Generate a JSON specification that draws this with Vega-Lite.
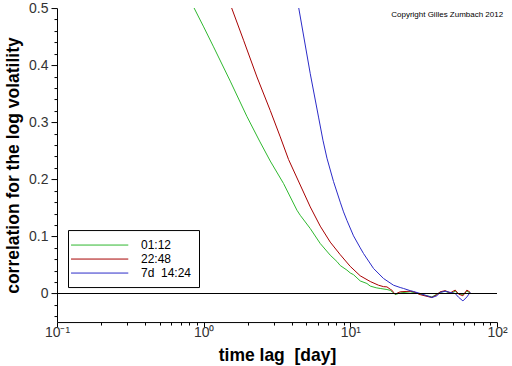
{
  "$schema": "https://vega.github.io/schema/vega-lite/v6.json",
  "width": 440,
  "height": 314,
  "autosize": {"type": "none"},
  "padding": {"left": 57, "top": 8.05, "right": 15, "bottom": 44},
  "background": "white",
  "config": {"font": "Liberation Sans", "view": {"stroke": null}},
  "title": {"text": "Copyright Gilles Zumbach 2012", "anchor": "end", "fontSize": 8, "fontWeight": "normal", "color": "black", "offset": -18, "dx": -4, "font": "Liberation Sans"},
  "data": {"values": [
    {"series": "01:12", "t": 0.80, "v": 0.516},
    {"series": "01:12", "t": 0.853, "v": 0.502},
    {"series": "01:12", "t": 1.0, "v": 0.467},
    {"series": "01:12", "t": 1.168, "v": 0.432},
    {"series": "01:12", "t": 1.518, "v": 0.372},
    {"series": "01:12", "t": 1.973, "v": 0.310},
    {"series": "01:12", "t": 2.405, "v": 0.267},
    {"series": "01:12", "t": 2.845, "v": 0.232},
    {"series": "01:12", "t": 3.505, "v": 0.1926},
    {"series": "01:12", "t": 4.325, "v": 0.1459},
    {"series": "01:12", "t": 4.555, "v": 0.137},
    {"series": "01:12", "t": 5.331, "v": 0.1138},
    {"series": "01:12", "t": 6.234, "v": 0.0876},
    {"series": "01:12", "t": 7.295, "v": 0.0671},
    {"series": "01:12", "t": 8.103, "v": 0.056},
    {"series": "01:12", "t": 8.535, "v": 0.049},
    {"series": "01:12", "t": 9.48, "v": 0.041},
    {"series": "01:12", "t": 9.984, "v": 0.036},
    {"series": "01:12", "t": 10.51, "v": 0.033},
    {"series": "01:12", "t": 11.68, "v": 0.022},
    {"series": "01:12", "t": 12.98, "v": 0.0175},
    {"series": "01:12", "t": 13.67, "v": 0.013},
    {"series": "01:12", "t": 15.0, "v": 0.010},
    {"series": "01:12", "t": 15.99, "v": 0.0088},
    {"series": "01:12", "t": 17.77, "v": 0.007},
    {"series": "01:12", "t": 18.71, "v": 0.0055},
    {"series": "01:12", "t": 19.70, "v": 0.001},
    {"series": "01:12", "t": 20.23, "v": -0.002},
    {"series": "01:12", "t": 21.88, "v": 0.001},
    {"series": "01:12", "t": 25.6, "v": 0.003},
    {"series": "01:12", "t": 29.96, "v": -0.001},
    {"series": "01:12", "t": 33.29, "v": -0.004},
    {"series": "01:12", "t": 36.0, "v": -0.006},
    {"series": "01:12", "t": 38.93, "v": -0.001},
    {"series": "01:12", "t": 41.0, "v": 0.002},
    {"series": "01:12", "t": 44.36, "v": 0.004},
    {"series": "01:12", "t": 47.97, "v": 0.0},
    {"series": "01:12", "t": 51.89, "v": 0.004},
    {"series": "01:12", "t": 54.65, "v": 0.0},
    {"series": "01:12", "t": 58.56, "v": -0.002},
    {"series": "01:12", "t": 62.35, "v": 0.004},
    {"series": "01:12", "t": 65.66, "v": 0.001},
    {"series": "22:48", "t": 1.45, "v": 0.520},
    {"series": "22:48", "t": 1.542, "v": 0.502},
    {"series": "22:48", "t": 1.871, "v": 0.4436},
    {"series": "22:48", "t": 2.308, "v": 0.3793},
    {"series": "22:48", "t": 2.845, "v": 0.3205},
    {"series": "22:48", "t": 3.328, "v": 0.2743},
    {"series": "22:48", "t": 3.791, "v": 0.2347},
    {"series": "22:48", "t": 4.555, "v": 0.190},
    {"series": "22:48", "t": 5.331, "v": 0.1517},
    {"series": "22:48", "t": 6.234, "v": 0.118},
    {"series": "22:48", "t": 7.295, "v": 0.090},
    {"series": "22:48", "t": 8.535, "v": 0.068},
    {"series": "22:48", "t": 9.984, "v": 0.0475},
    {"series": "22:48", "t": 11.68, "v": 0.031},
    {"series": "22:48", "t": 13.67, "v": 0.021},
    {"series": "22:48", "t": 15.57, "v": 0.0145},
    {"series": "22:48", "t": 16.84, "v": 0.012},
    {"series": "22:48", "t": 17.77, "v": 0.0116},
    {"series": "22:48", "t": 18.71, "v": 0.0075},
    {"series": "22:48", "t": 19.21, "v": 0.0058},
    {"series": "22:48", "t": 19.70, "v": 0.002},
    {"series": "22:48", "t": 20.23, "v": -0.001},
    {"series": "22:48", "t": 21.88, "v": 0.003},
    {"series": "22:48", "t": 25.6, "v": 0.004},
    {"series": "22:48", "t": 27.0, "v": 0.003},
    {"series": "22:48", "t": 29.96, "v": -0.002},
    {"series": "22:48", "t": 33.29, "v": -0.005},
    {"series": "22:48", "t": 36.0, "v": -0.007},
    {"series": "22:48", "t": 38.93, "v": -0.002},
    {"series": "22:48", "t": 41.0, "v": 0.003},
    {"series": "22:48", "t": 44.36, "v": 0.005},
    {"series": "22:48", "t": 47.97, "v": 0.001},
    {"series": "22:48", "t": 51.89, "v": 0.006},
    {"series": "22:48", "t": 54.65, "v": -0.001},
    {"series": "22:48", "t": 58.56, "v": -0.004},
    {"series": "22:48", "t": 62.35, "v": 0.006},
    {"series": "22:48", "t": 65.66, "v": 0.002},
    {"series": "7d 14:24", "t": 4.3, "v": 0.522},
    {"series": "7d 14:24", "t": 4.436, "v": 0.502},
    {"series": "7d 14:24", "t": 5.331, "v": 0.385},
    {"series": "7d 14:24", "t": 6.071, "v": 0.309},
    {"series": "7d 14:24", "t": 6.505, "v": 0.2685},
    {"series": "7d 14:24", "t": 6.928, "v": 0.237},
    {"series": "7d 14:24", "t": 7.683, "v": 0.196},
    {"series": "7d 14:24", "t": 8.535, "v": 0.160},
    {"series": "7d 14:24", "t": 8.989, "v": 0.143},
    {"series": "7d 14:24", "t": 9.48, "v": 0.128},
    {"series": "7d 14:24", "t": 10.51, "v": 0.101},
    {"series": "7d 14:24", "t": 11.68, "v": 0.080},
    {"series": "7d 14:24", "t": 12.30, "v": 0.070},
    {"series": "7d 14:24", "t": 14.40, "v": 0.0438},
    {"series": "7d 14:24", "t": 16.84, "v": 0.0263},
    {"series": "7d 14:24", "t": 19.70, "v": 0.0145},
    {"series": "7d 14:24", "t": 21.88, "v": 0.0105},
    {"series": "7d 14:24", "t": 23.05, "v": 0.0088},
    {"series": "7d 14:24", "t": 25.6, "v": 0.005},
    {"series": "7d 14:24", "t": 27.0, "v": 0.0035},
    {"series": "7d 14:24", "t": 29.96, "v": 0.0},
    {"series": "7d 14:24", "t": 33.29, "v": -0.004},
    {"series": "7d 14:24", "t": 36.0, "v": -0.007},
    {"series": "7d 14:24", "t": 38.93, "v": -0.004},
    {"series": "7d 14:24", "t": 41.0, "v": 0.002},
    {"series": "7d 14:24", "t": 44.36, "v": 0.004},
    {"series": "7d 14:24", "t": 47.97, "v": 0.002},
    {"series": "7d 14:24", "t": 51.89, "v": 0.0},
    {"series": "7d 14:24", "t": 54.65, "v": -0.0065},
    {"series": "7d 14:24", "t": 58.56, "v": -0.013},
    {"series": "7d 14:24", "t": 62.35, "v": -0.006},
    {"series": "7d 14:24", "t": 65.66, "v": 0.002}
  ]},
  "layer": [
    {
      "mark": {"type": "line", "strokeWidth": 1, "clip": true},
      "encoding": {
        "x": {
          "field": "t", "type": "quantitative",
          "scale": {"type": "log", "domain": [0.1, 100], "nice": false},
          "axis": {
            "title": "time lag\u00a0 [day]",
            "values": [0.1,0.2,0.3,0.4,0.5,0.6,0.7,0.8,0.9,1,2,3,4,5,6,7,8,9,10,20,30,40,50,60,70,80,90,100],
            "labelExpr": "datum.value == 0.1 ? '10⁻¹' : datum.value == 1 ? '10⁰' : datum.value == 10 ? '10¹' : datum.value == 100 ? '10²' : ''",
            "tickSize": {"condition": {"test": "datum.value == 0.1 || datum.value == 1 || datum.value == 10 || datum.value == 100", "value": 5}, "value": 3},
            "grid": false,
            "domainColor": "black",
            "tickColor": "black",
            "labelFontSize": 14,
            "labelColor": "#333",
            "labelPadding": -2,
            "labelFlush": false,
            "labelOverlap": false,
            "titleFontSize": 17.5,
            "titleFontWeight": "bold",
            "titleColor": "black",
            "titlePadding": 7
          }
        },
        "y": {
          "field": "v", "type": "quantitative",
          "scale": {"domain": [-0.05, 0.5], "nice": false, "zero": false},
          "axis": {
            "title": "correlation for the log volatility",
            "values": [-0.04,-0.02,0,0.02,0.04,0.06,0.08,0.1,0.12,0.14,0.16,0.18,0.2,0.22,0.24,0.26,0.28,0.3,0.32,0.34,0.36,0.38,0.4,0.42,0.44,0.46,0.48,0.5],
            "labelExpr": "abs(datum.value*10 - round(datum.value*10)) < 1e-6 ? format(datum.value, '.1~f') : ''",
            "tickSize": {"condition": {"test": "abs(datum.value*10 - round(datum.value*10)) < 1e-6", "value": 6}, "value": 3},
            "grid": false,
            "domainColor": "black",
            "tickColor": "black",
            "labelFontSize": 14,
            "labelColor": "#333",
            "labelPadding": 3,
            "labelFlush": false,
            "labelOverlap": false,
            "titleFontSize": 17.5,
            "titleFontWeight": "bold",
            "titleColor": "black",
            "titlePadding": 6
          }
        },
        "color": {
          "field": "series", "type": "nominal",
          "scale": {"domain": ["01:12", "22:48", "7d 14:24"], "range": ["#2eb82e", "#a80000", "#2a2ac8"]},
          "legend": {
            "title": null,
            "orient": "none",
            "legendX": 11,
            "legendY": 222,
            "symbolType": "M-1.71,0H6.47",
            "symbolSize": 196,
            "symbolStrokeWidth": 1,
            "labelFontSize": 12,
            "labelColor": "black",
            "labelOffset": 50.5,
            "padding": 7.5,
            "rowPadding": 0,
            "strokeColor": "black",
            "fillColor": "white",
            "labelExpr": "datum.label == '7d 14:24' ? '7d\u00a0\u00a014:24' : '\u00a0\u00a0\u00a0\u00a0\u00a0\u00a0' + datum.label"
          }
        }
      }
    },
    {
      "mark": {"type": "rule", "color": "black", "strokeWidth": 1},
      "encoding": {"y": {"datum": 0, "type": "quantitative",
        "axis": {
            "title": "correlation for the log volatility",
            "values": [-0.04,-0.02,0,0.02,0.04,0.06,0.08,0.1,0.12,0.14,0.16,0.18,0.2,0.22,0.24,0.26,0.28,0.3,0.32,0.34,0.36,0.38,0.4,0.42,0.44,0.46,0.48,0.5],
            "labelExpr": "abs(datum.value*10 - round(datum.value*10)) < 1e-6 ? format(datum.value, '.1~f') : ''",
            "tickSize": {"condition": {"test": "abs(datum.value*10 - round(datum.value*10)) < 1e-6", "value": 6}, "value": 3},
            "grid": false,
            "domainColor": "black",
            "tickColor": "black",
            "labelFontSize": 14,
            "labelColor": "#333",
            "labelPadding": 3,
            "labelFlush": false,
            "labelOverlap": false,
            "titleFontSize": 17.5,
            "titleFontWeight": "bold",
            "titleColor": "black",
            "titlePadding": 6
        }}}
    }
  ]
}
